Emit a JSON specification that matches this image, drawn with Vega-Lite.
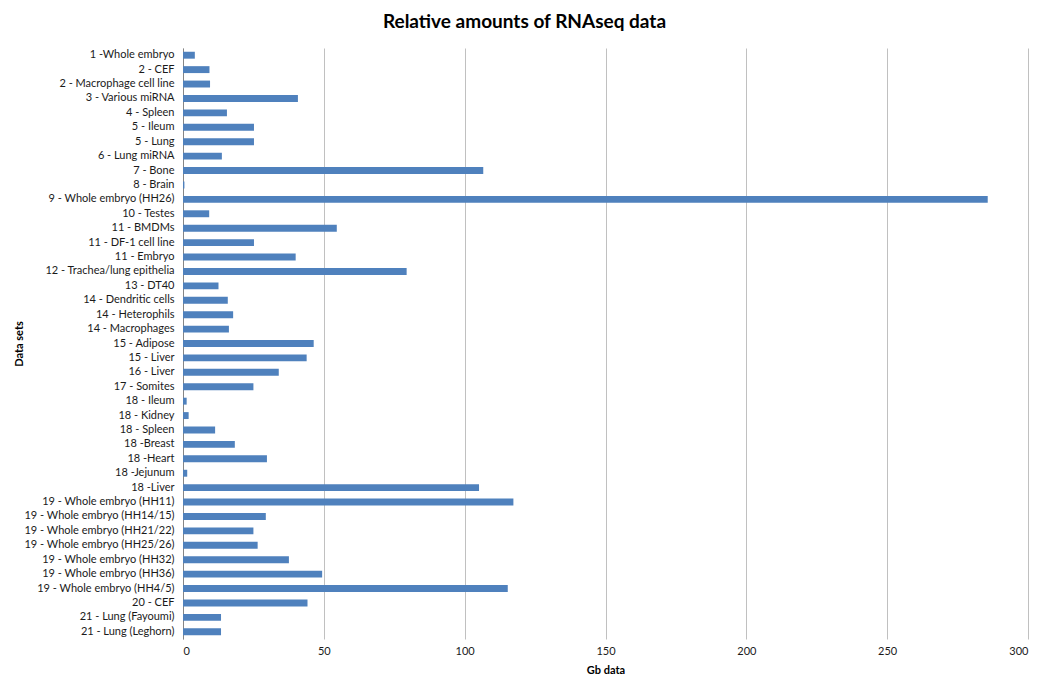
{
  "$schema": "https://vega.github.io/schema/vega-lite/v6.json",
  "width": 845,
  "height": 591,
  "autosize": {"type": "none"},
  "padding": {"left": 183, "top": 48, "right": 22, "bottom": 54},
  "background": "white",
  "title": {
    "text": "Relative amounts of RNAseq data",
    "font": "Lato",
    "fontSize": 19,
    "fontWeight": "bold",
    "color": "#000000",
    "anchor": "middle",
    "dx": -81,
    "offset": 16
  },
  "data": {
    "values": [
      {"set": "1 -Whole embryo", "gb": 4.2},
      {"set": "2 - CEF", "gb": 9.4},
      {"set": "2 - Macrophage cell line", "gb": 9.6},
      {"set": "3 - Various miRNA", "gb": 40.8},
      {"set": "4 - Spleen", "gb": 15.6},
      {"set": "5 - Ileum", "gb": 25.2},
      {"set": "5 - Lung", "gb": 25.2},
      {"set": "6 - Lung miRNA", "gb": 13.8},
      {"set": "7 - Bone", "gb": 106.6},
      {"set": "8 - Brain", "gb": 0.5},
      {"set": "9 - Whole embryo (HH26)", "gb": 285.7},
      {"set": "10 - Testes", "gb": 9.3},
      {"set": "11 - BMDMs", "gb": 54.6},
      {"set": "11 - DF-1 cell line", "gb": 25.2},
      {"set": "11 - Embryo", "gb": 40.0},
      {"set": "12 - Trachea/lung epithelia", "gb": 79.4},
      {"set": "13 - DT40", "gb": 12.6},
      {"set": "14 - Dendritic cells", "gb": 15.9},
      {"set": "14 - Heterophils", "gb": 17.8},
      {"set": "14 - Macrophages", "gb": 16.3},
      {"set": "15 - Adipose", "gb": 46.4},
      {"set": "15 - Liver", "gb": 43.9},
      {"set": "16 - Liver", "gb": 34.0},
      {"set": "17 - Somites", "gb": 25.0},
      {"set": "18 - Ileum", "gb": 1.3},
      {"set": "18 - Kidney", "gb": 2.0},
      {"set": "18 - Spleen", "gb": 11.4},
      {"set": "18 -Breast", "gb": 18.4},
      {"set": "18 -Heart", "gb": 29.8},
      {"set": "18 -Jejunum", "gb": 1.5},
      {"set": "18 -Liver", "gb": 105.1},
      {"set": "19 - Whole embryo (HH11)", "gb": 117.3},
      {"set": "19 - Whole embryo (HH14/15)", "gb": 29.4},
      {"set": "19 - Whole embryo (HH21/22)", "gb": 25.0},
      {"set": "19 - Whole embryo (HH25/26)", "gb": 26.5},
      {"set": "19 - Whole embryo (HH32)", "gb": 37.6},
      {"set": "19 - Whole embryo (HH36)", "gb": 49.4},
      {"set": "19 - Whole embryo (HH4/5)", "gb": 115.3},
      {"set": "20 - CEF", "gb": 44.2},
      {"set": "21 - Lung (Fayoumi)", "gb": 13.5},
      {"set": "21 - Lung (Leghorn)", "gb": 13.5}
    ]
  },
  "mark": {"type": "bar", "color": "#4f81bd"},
  "encoding": {
    "y": {
      "field": "set",
      "type": "nominal",
      "sort": null,
      "scale": {"paddingInner": 0.52, "paddingOuter": 0.26},
      "axis": {
        "title": "Data sets",
        "titleFont": "Lato",
        "titleFontSize": 11,
        "titleFontWeight": "bold",
        "titleColor": "#000000",
        "titleX": -159,
        "labelFont": "Lato",
        "labelFontSize": 11,
        "labelColor": "#1a1a1a",
        "labelPadding": 9,
        "ticks": false,
        "domainColor": "#868686",
        "domainWidth": 1,
        "grid": false
      }
    },
    "x": {
      "field": "gb",
      "type": "quantitative",
      "scale": {"domain": [0, 300], "nice": false},
      "axis": {
        "title": "Gb data",
        "titleFont": "Lato",
        "titleFontSize": 11,
        "titleFontWeight": "bold",
        "titleColor": "#000000",
        "titlePadding": 8,
        "values": [0, 50, 100, 150, 200, 250, 300],
        "labelFont": "Lato",
        "labelFontSize": 11,
        "labelColor": "#1a1a1a",
        "labelPadding": 6,
        "ticks": false,
        "domain": false,
        "grid": true,
        "gridColor": "#c0c0c0",
        "gridWidth": 1
      }
    }
  },
  "config": {"view": {"stroke": null}}
}
